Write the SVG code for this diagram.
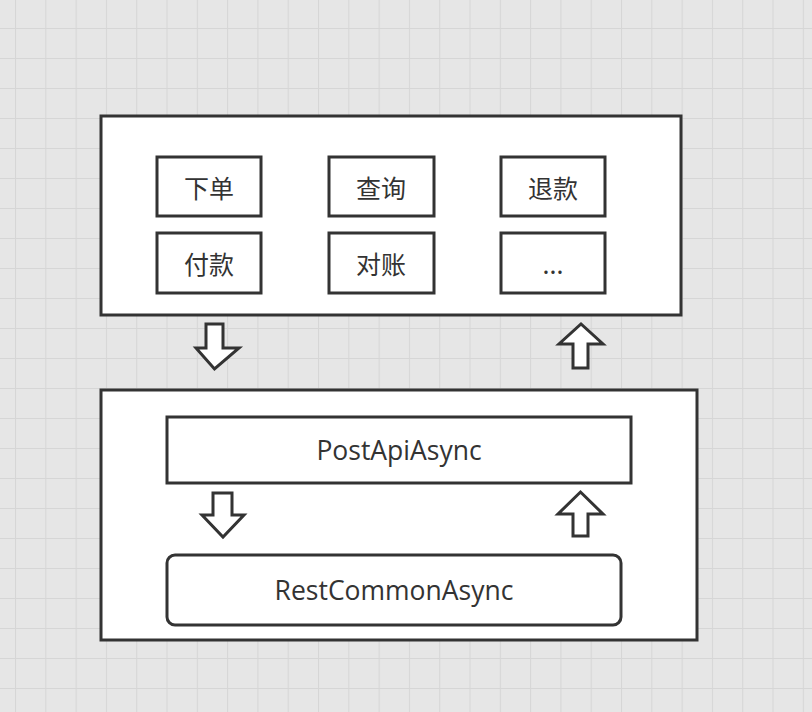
<svg xmlns="http://www.w3.org/2000/svg" width="812" height="712" viewBox="0 0 812 712">
<defs>
<pattern id="grid" x="15" y="28" width="30.3" height="30" patternUnits="userSpaceOnUse">
<rect width="30.3" height="30" fill="#e6e6e6"/>
<path d="M0 0H30.3M0 0V30" stroke="#d6d6d6" stroke-width="2" fill="none"/>
</pattern>
</defs>
<style>
.box{fill:#fff;stroke:#333;stroke-width:3}
.arr{fill:#fff;stroke:#333;stroke-width:3;stroke-linejoin:miter}
.t{font-family:"Noto Sans CJK SC","Open Sans",sans-serif;font-size:25px;fill:#333;text-anchor:middle;dominant-baseline:central}
.e{font-family:"Open Sans","Noto Sans CJK SC",sans-serif;font-size:26.5px;fill:#333;text-anchor:middle;dominant-baseline:central}
</style>
<rect width="812" height="712" fill="url(#grid)"/>
<g id="top-layer">
<rect class="box" x="101" y="116" width="580" height="199"/>
</g>
<g id="node-xiadan"><rect class="box" x="157" y="157" width="104" height="59"/><text class="t" x="209" y="187">下单</text></g>
<g id="node-chaxun"><rect class="box" x="329" y="157" width="105" height="59"/><text class="t" x="381" y="187">查询</text></g>
<g id="node-tuikuan"><rect class="box" x="501" y="157" width="104" height="59"/><text class="t" x="553" y="187">退款</text></g>
<g id="node-fukuan"><rect class="box" x="157" y="233" width="104" height="60"/><text class="t" x="209" y="263">付款</text></g>
<g id="node-duizhang"><rect class="box" x="329" y="233" width="105" height="60"/><text class="t" x="381" y="263">对账</text></g>
<g id="node-more"><rect class="box" x="501" y="233" width="104" height="60"/><text class="t" x="553" y="263">...</text></g>
<g id="bottom-layer">
<rect class="box" x="101" y="390" width="596" height="250"/>
</g>
<g id="node-postapi"><rect class="box" x="167" y="417" width="464" height="66"/><text class="e" x="399" y="450">PostApiAsync</text></g>
<g id="node-restcommon"><rect class="box" x="167" y="555" width="454" height="70" rx="8"/><text class="e" x="394" y="590">RestCommonAsync</text></g>
<g id="connectors">
<path class="arr" d="M206 324H223V348H239L214.5 369L196 348H206Z"/>
<path class="arr" d="M573 368H588V344H603L581 324L559 344H573Z"/>
<path class="arr" d="M213 493H232V515H244L223 537L202 515H213Z"/>
<path class="arr" d="M573 536H588V514H603L580.5 492L558 514H573Z"/>
</g>
</svg>
